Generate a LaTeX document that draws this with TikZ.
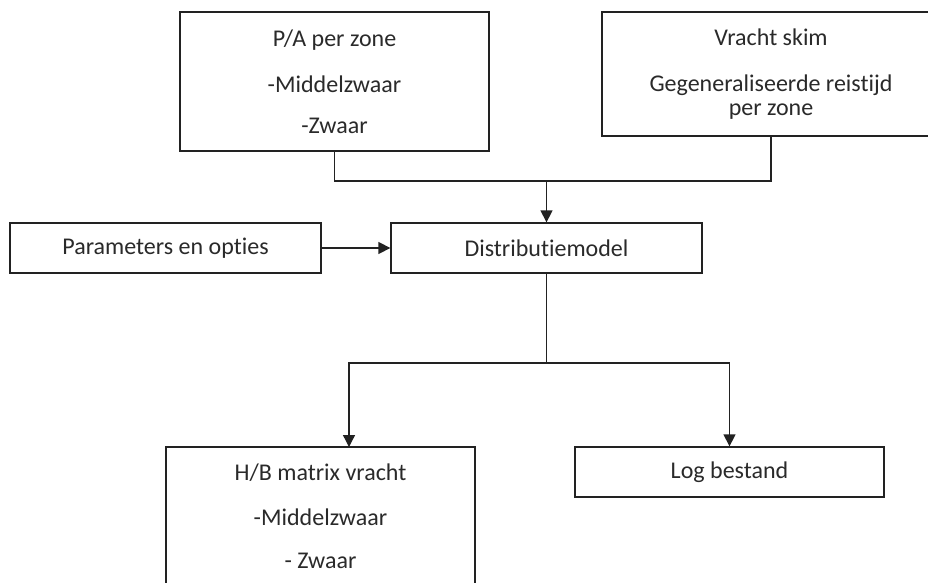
\documentclass[tikz,border=0pt]{standalone}
\usepackage{fontspec}
\setmainfont{Carlito}[Ligatures={NoCommon}]
\usetikzlibrary{arrows.meta}
\definecolor{ink}{HTML}{222222}
\definecolor{textink}{HTML}{2A2A2A}
\tikzset{
  x=1pt, y=-1pt,
  box/.style={draw=ink, line width=1.3pt, rectangle, inner sep=0pt, align=center,
    text=textink, font=\fontsize{24}{24}\selectfont},
  link/.style={draw=ink, line width=1.3pt},
  arrowlink/.style={link, -{Triangle[length=12pt,width=12pt]}}
}
\begin{document}
\begin{tikzpicture}
\useasboundingbox (0,0) rectangle (928,583);
\clip (0,0) rectangle (928,583);
\fill[white] (0,0) rectangle (928,583);

% input boxes
\node[box, minimum width=309pt, minimum height=139pt] (pa) at (334.5,81.5)
  {P/A per zone\\[22pt]-Middelzwaar\\[17pt]-Zwaar};
\node[box, minimum width=338pt, minimum height=124pt] (vs) at (771,74)
  {Vracht skim\\[22pt]Gegeneraliseerde reistijd\\per zone};
\node[box, minimum width=311pt, minimum height=50pt] (par) at (165.5,248)
  {Parameters en opties};

% model
\node[box, minimum width=311pt, minimum height=50pt] (dm) at (546.5,248)
  {Distributiemodel};

% outputs
\node[box, minimum width=309pt, minimum height=139pt] (hb) at (320.5,516.5)
  {H/B matrix vracht\\[21pt]-Middelzwaar\\[19pt]- Zwaar};
\node[box, minimum width=309pt, minimum height=50pt] (log) at (729.5,472)
  {Log bestand};

% junction points
\coordinate (jin) at (546.5,181);
\coordinate (jout) at (546.5,363);
\coordinate (hbin) at (349,447);

% inputs merge into the model
\draw[link] (pa.south) |- (jin) -| (vs.south);
\draw[arrowlink] (jin) -- (dm.north);
\draw[arrowlink] (par.east) -- (dm.west);

% model fans out to the outputs
\draw[link] (dm.south) -- (jout);
\draw[arrowlink] (jout) -| (hbin);
\draw[arrowlink] (jout) -| (log.north);
\end{tikzpicture}
\end{document}
